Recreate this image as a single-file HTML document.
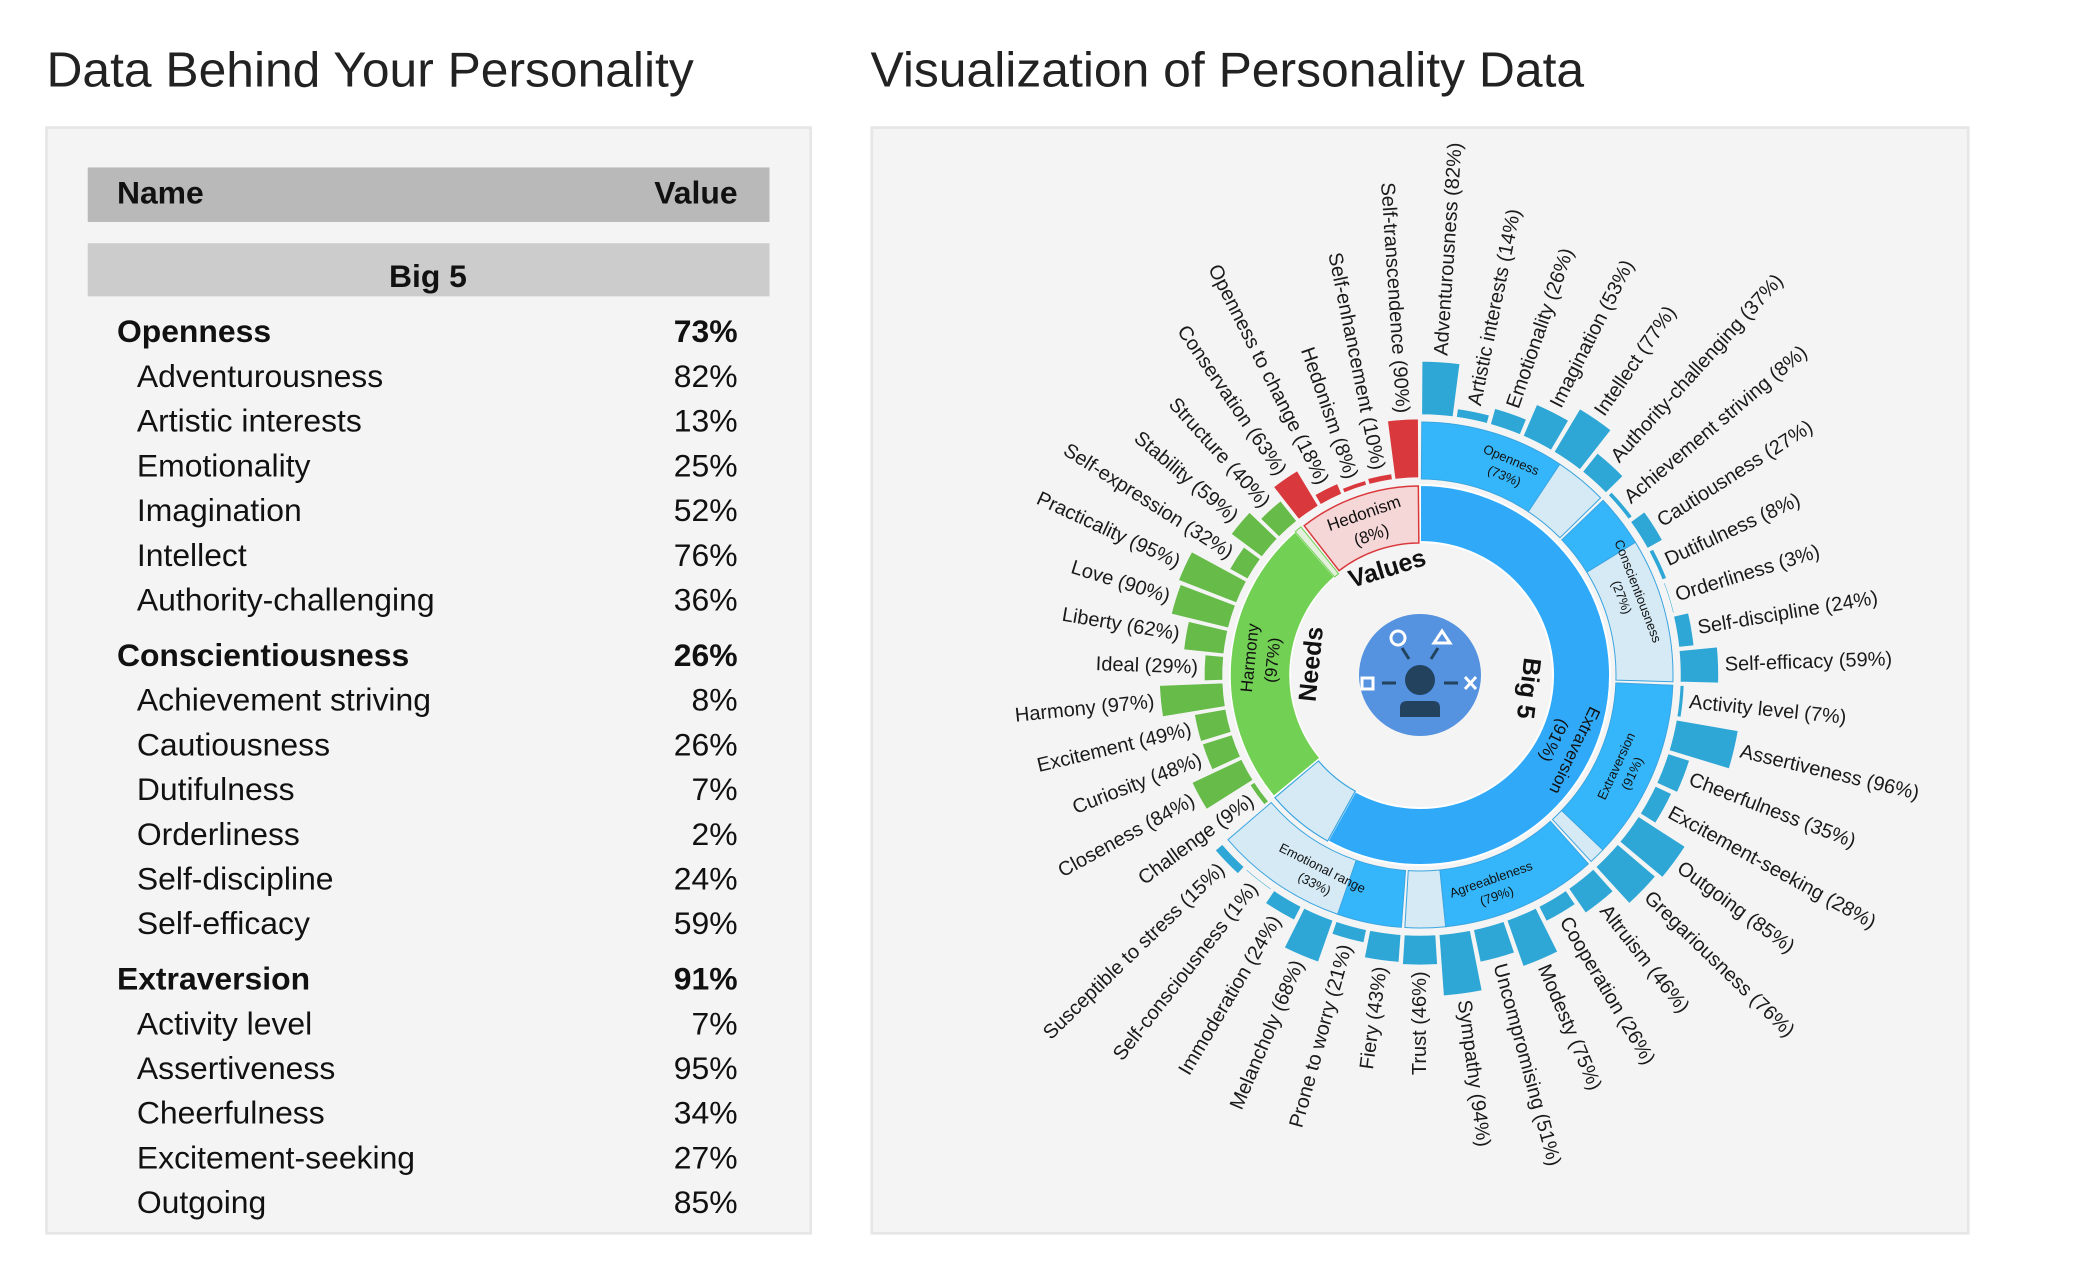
<!DOCTYPE html>
<html><head><meta charset="utf-8"><style>
html,body{margin:0;padding:0;background:#fff;}
svg{display:block;font-family:"Liberation Sans",Arial,sans-serif;}
</style></head><body>
<svg id="root" width="2084" height="1276" viewBox="0 0 2084 1276" xmlns="http://www.w3.org/2000/svg">
<g transform="scale(1.329)">
  <text x="35" y="65" font-size="37" fill="#222" textLength="487" lengthAdjust="spacingAndGlyphs">Data Behind Your Personality</text>
  <text x="655" y="65" font-size="37" fill="#222" textLength="537" lengthAdjust="spacingAndGlyphs">Visualization of Personality Data</text>
  <rect x="35" y="96" width="575" height="832" fill="#f4f4f4" stroke="#e6e6e6" stroke-width="2"/>
  <rect x="656" y="96" width="825" height="832" fill="#f4f4f4" stroke="#e6e6e6" stroke-width="2"/>
  <rect x="66" y="126" width="513" height="41" fill="#b9b9b9"/>
  <text x="88" y="153" font-size="24" font-weight="bold" fill="#111">Name</text>
  <text x="555" y="153" font-size="24" font-weight="bold" fill="#111" text-anchor="end">Value</text>
  <rect x="66" y="183" width="513" height="40" fill="#cccccc"/>
  <text x="322" y="216" font-size="24" font-weight="bold" fill="#111" text-anchor="middle">Big 5</text>
  <g id="tableRows" font-size="24" fill="#111"></g>
</g>
<g id="sun"></g>
</svg>
<script>
const tableNames=["Openness","Adventurousness","Artistic interests","Emotionality","Imagination","Intellect","Authority-challenging","Conscientiousness","Achievement striving","Cautiousness","Dutifulness","Orderliness","Self-discipline","Self-efficacy","Extraversion","Activity level","Assertiveness","Cheerfulness","Excitement-seeking","Outgoing"];
const tableValues=[73,82,13,25,52,76,36,26,8,26,7,2,24,59,91,7,95,34,27,85];
const tableIsCat=[1,0,0,0,0,0,0,1,0,0,0,0,0,0,1,0,0,0,0,0];

const big5Dims=["Openness","Conscientiousness","Extraversion","Agreeableness","Emotional range"];
const big5DimValues=[73,27,91,79,33];
const big5Facets=[
 ["Adventurousness","Artistic interests","Emotionality","Imagination","Intellect","Authority-challenging"],
 ["Achievement striving","Cautiousness","Dutifulness","Orderliness","Self-discipline","Self-efficacy"],
 ["Activity level","Assertiveness","Cheerfulness","Excitement-seeking","Outgoing","Gregariousness"],
 ["Altruism","Cooperation","Modesty","Uncompromising","Sympathy","Trust"],
 ["Fiery","Prone to worry","Melancholy","Immoderation","Self-consciousness","Susceptible to stress"]];
const big5FacetValues=[[82,14,26,53,77,37],[8,27,8,3,24,59],[7,96,35,28,85,76],[46,26,75,51,94,46],[43,21,68,24,1,15]];
const needsNames=["Challenge","Closeness","Curiosity","Excitement","Harmony","Ideal","Liberty","Love","Practicality","Self-expression","Stability","Structure"];
const needsValues=[9,84,48,49,97,29,62,90,95,32,59,40];
const valuesNames=["Conservation","Openness to change","Hedonism","Self-enhancement","Self-transcendence"];
const valuesValues=[63,18,8,10,90];
const topBig5=91, topNeeds=97, topValues=8;

const NS="http://www.w3.org/2000/svg";
function mk(tag,attrs,parent){const e=document.createElementNS(NS,tag);for(const k in attrs)e.setAttribute(k,attrs[k]);parent.appendChild(e);return e;}

// table
const tr=document.getElementById('tableRows');
let y=257.5;
tableNames.forEach((n,i)=>{
  if(tableIsCat[i]&&i>0) y+=8;
  const t=mk('text',{x:tableIsCat[i]?88:103,y:y,'font-weight':tableIsCat[i]?'bold':'normal'},tr);
  
  
  t.textContent=n;
  const v=mk('text',{x:555,y:y,'text-anchor':'end','font-weight':tableIsCat[i]?'bold':'normal'},tr);
  
  
  v.textContent=tableValues[i]+'%';
  y+=33.65;
});

// sunburst
const CX=1420, CY=675;
const sun=document.getElementById('sun');
function pt(r,a){const t=a*Math.PI/180;return [CX+r*Math.sin(t),CY-r*Math.cos(t)];}
function arc(r0,r1,a0,a1){
  const p0=pt(r1,a0),p1=pt(r1,a1),p2=pt(r0,a1),p3=pt(r0,a0);const lg=(a1-a0)>180?1:0;
  return `M${p0[0]},${p0[1]}A${r1},${r1} 0 ${lg} 1 ${p1[0]},${p1[1]}L${p2[0]},${p2[1]}A${r0},${r0} 0 ${lg} 0 ${p3[0]},${p3[1]}Z`;
}
function sector(r0,r1,a0,a1,fill,stroke,sw,name){
  const p=mk('path',{d:arc(r0,r1,a0,a1),fill:fill,stroke:stroke,'stroke-width':sw},sun);
  
  
  return p;
}
function tangText(r,a,lines,size,weight,name){
  const p=pt(r,a);let rot=a; if(a>90&&a<270) rot=a-180;
  const g=mk('g',{transform:`translate(${p[0]},${p[1]}) rotate(${rot})`},sun);
  
  
  lines.forEach((l,i)=>{const t=mk('text',{x:0,y:(i-(lines.length-1)/2)*size*1.35+size*0.35,'text-anchor':'middle','font-size':size,'font-weight':weight||'normal',fill:'#111'},g);t.textContent=l;});
}
function radText(r,a,label,size,name){
  const p=pt(r,a);const right=(a%360)<180;
  const t=mk('text',{x:p[0],y:p[1],'font-size':size,fill:'#1a1a1a','text-anchor':right?'start':'end','dominant-baseline':'central',transform:`rotate(${right?a-90:a+90} ${p[0]} ${p[1]})`},sun);
  
  
  t.textContent=label;
}
const nItems=30+needsNames.length+valuesNames.length;
const W=360/nItems;
const BARK=0.66;
// Big5
const b5end=30*W;
const b5mid=b5end*topBig5/100;
sector(133,190,0,b5mid,'#30a9f9','#fff',2,'big5-ring-fill');
sector(133,190,b5mid,b5end,'#d6eaf5','#3aa5e0',1.2,'big5-ring-rest');
let idx=0;
big5Dims.forEach((d,di)=>{
  const a0=di*6*W,a1=(di+1)*6*W,am=a0+(a1-a0)*big5DimValues[di]/100;
  sector(196,253,a0+0.4,am,'#35b6fb','#3aa5e0',1,'dim-'+d.toLowerCase().replace(/ /g,'-'));
  sector(196,253,am,a1-0.4,'#d6eaf5','#3aa5e0',1,'dim-rest');
  tangText(225,(a0+a1)/2,[d,'('+big5DimValues[di]+'%)'],13,'normal','dim-label');
  big5Facets[di].forEach((f,fi)=>{
    const v=big5FacetValues[di][fi];const a=idx*W;const len=Math.max(2,v*BARK);
    sector(260,260+len,a+0.3,a+W-0.3,'#2ea7d6','#f4f4f4',1.5,'facet-bar');
    radText(260+len+6,a+W/2,f+' ('+v+'%)',20,'facet-label');
    idx++;
  });
});
// Needs
const nd0=b5end,nd1=b5end+needsNames.length*W,ndm=nd0+(nd1-nd0)*topNeeds/100;
sector(130,190,nd0+0.5,ndm,'#72d154','#fff',1.5,'needs-ring-fill');
sector(130,190,ndm,nd1-0.5,'#e3f0dc','#72d154',1,'needs-ring-rest');
needsNames.forEach((n,i)=>{
  const v=needsValues[i];const a=nd0+i*W;const len=Math.max(2,v*BARK);
  sector(197,197+len,a+0.3,a+W-0.3,'#66bb49','#f4f4f4',1.5,'need-bar');
  radText(197+len+6,a+W/2,n+' ('+v+'%)',20,'need-label');
});
// Values
const vl0=nd1,vl1=360;
sector(132,189,vl0+0.5,vl1-0.5,'#f6d7d8','#d9393c',1.5,'values-ring');
valuesNames.forEach((n,i)=>{
  const v=valuesValues[i];const a=vl0+i*W;const len=Math.max(2,v*BARK);
  sector(197,197+len,a+0.3,a+W-0.3,'#d9393c','#f4f4f4',1.5,'value-bar');
  radText(197+len+6,a+W/2,n+' ('+v+'%)',20,'value-label');
});
// level1 labels
tangText(160,(vl0+vl1)/2,['Hedonism','('+topValues+'%)'],17,'normal','hedonism-label');
tangText(112,(vl0+vl1)/2+2,['Values'],25,'bold','values-label');
tangText(160,(nd0+nd1)/2,['Harmony','('+topNeeds+'%)'],17,'normal','harmony-label');
tangText(110,(nd0+nd1)/2,['Needs'],25,'bold','needs-label');
// Big5 labels (reading downward)
function downText(r,a,lines,size,weight,name){
  const p=pt(r,a);const g=mk('g',{transform:`translate(${p[0]},${p[1]}) rotate(${a})`},sun);
  
  
  lines.forEach((l,i)=>{const t=mk('text',{x:0,y:(i-(lines.length-1)/2)*size*1.35+size*0.35,'text-anchor':'middle','font-size':size,'font-weight':weight,fill:'#111'},g);t.textContent=l;});
}
downText(110,97,['Big 5'],25,'bold','big5-label');
downText(161,116,['Extraversion','('+topBig5+'%)'],17,'normal','extraversion-label');
// center icon
const ic=mk('g',{transform:`translate(${CX},${CY})`},sun);


mk('circle',{cx:0,cy:0,r:61,fill:'#5592e0'},ic);
mk('circle',{cx:0,cy:5,r:15,fill:'#23425e'},ic);
mk('path',{d:'M-20,42 L-20,33 Q-20,26 -13,26 L13,26 Q20,26 20,33 L20,42 Z',fill:'#23425e'},ic);
mk('circle',{cx:-22,cy:-37,r:7,fill:'none',stroke:'#fff','stroke-width':3},ic);
mk('path',{d:'M22,-44 L30,-32 L14,-32 Z',fill:'none',stroke:'#fff','stroke-width':3},ic);
mk('rect',{x:-58,y:3,width:11,height:11,fill:'none',stroke:'#fff','stroke-width':3},ic);
mk('path',{d:'M45,2 L56,14 M56,2 L45,14',stroke:'#fff','stroke-width':3},ic);
mk('path',{d:'M-18,-27 L-11,-16 M18,-27 L11,-16 M-38,8 L-24,8 M24,8 L38,8',stroke:'#23425e','stroke-width':3},ic);
</script>
</body></html>
